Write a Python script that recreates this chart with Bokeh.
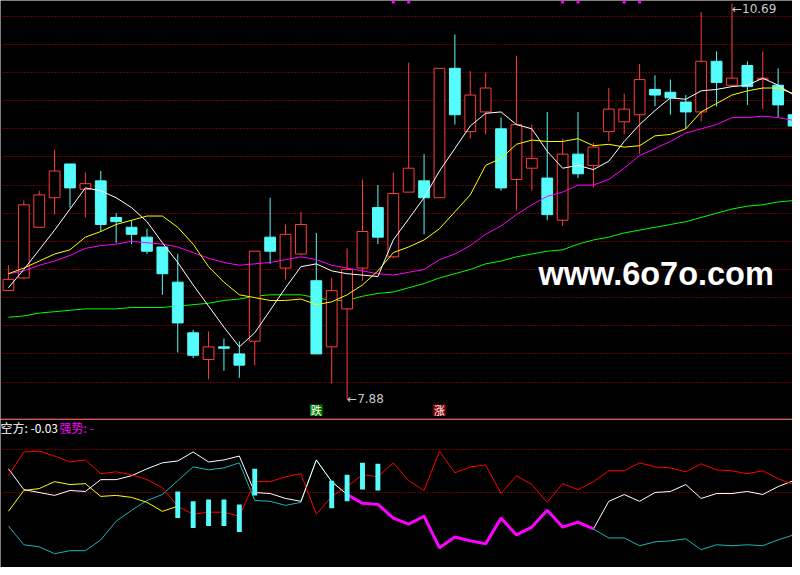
import numpy as np
from bokeh.plotting import figure
from bokeh.layouts import column
from bokeh.models import ColumnDataSource, Range1d, FixedTicker, Span, Label
from bokeh.core.properties import value
from bokeh.embed import file_html
from bokeh.resources import INLINE

# K线数据 (元)
opens = [8.65, 8.74, 9.10, 9.31, 9.55, 9.37, 9.43, 9.17, 9.10, 9.03,
         8.96, 8.71, 8.35, 8.16, 8.25, 8.20, 8.29, 9.03, 8.81, 8.91,
         8.72, 8.25, 8.52, 8.81, 9.24, 8.89, 9.35, 9.43, 9.31, 10.23,
         9.78, 9.92, 9.80, 9.44, 9.52, 9.45, 9.15, 9.62, 9.54, 9.78,
         9.85, 9.90, 10.08, 10.06, 9.99, 9.92, 10.28, 10.11, 10.25, 10.15,
         10.11, 9.90]
highs = [8.83, 9.29, 9.36, 9.65, 9.55, 9.49, 9.50, 9.20, 9.15, 9.09,
         8.96, 8.91, 8.37, 8.36, 8.31, 8.29, 8.93, 9.31, 9.12, 9.21,
         9.06, 8.74, 8.95, 9.44, 9.40, 9.49, 10.27, 9.62, 10.23, 10.47,
         10.21, 10.20, 9.88, 10.32, 9.83, 9.92, 9.73, 9.92, 9.70, 10.09,
         10.05, 10.26, 10.18, 10.15, 10.04, 10.63, 10.35, 10.69, 10.28, 10.35,
         10.23, 9.90]
lows = [8.65, 8.73, 9.10, 9.19, 9.24, 9.17, 9.07, 8.99, 8.98, 8.91,
        8.62, 8.21, 8.17, 8.02, 8.08, 8.03, 8.12, 8.84, 8.73, 8.90,
        8.20, 7.99, 7.88, 8.72, 8.98, 8.88, 9.35, 9.05, 9.31, 9.83,
        9.73, 9.76, 9.36, 9.22, 9.36, 9.15, 9.11, 9.45, 9.38, 9.71,
        9.76, 9.62, 9.96, 9.90, 9.80, 9.85, 9.96, 10.10, 9.97, 9.94,
        9.88, 9.82]
closes = [8.73, 9.26, 9.33, 9.50, 9.38, 9.41, 9.12, 9.14, 9.05, 8.93,
          8.77, 8.42, 8.19, 8.25, 8.24, 8.12, 8.93, 8.93, 9.05, 9.12,
          8.20, 8.65, 8.80, 9.07, 9.03, 9.34, 9.52, 9.31, 10.23, 9.90,
          10.04, 10.09, 9.38, 9.83, 9.59, 9.19, 9.62, 9.48, 9.67, 9.94,
          9.94, 10.15, 10.04, 10.02, 9.92, 10.28, 10.13, 10.16, 10.10, 10.16,
          9.97, 9.82]

# 均线
ma5 = [8.67, 8.80, 8.94, 9.08, 9.23, 9.38, 9.36, 9.31, 9.24, 9.14,
       8.99, 8.85, 8.69, 8.54, 8.39, 8.25, 8.35, 8.51, 8.67, 8.82,
       8.84, 8.79, 8.77, 8.76, 8.75, 9.01, 9.16, 9.31, 9.50, 9.66,
       9.82, 9.91, 9.92, 9.83, 9.80, 9.64, 9.52, 9.54, 9.51, 9.57,
       9.71, 9.83, 9.93, 10.02, 10.01, 10.07, 10.08, 10.10, 10.11, 10.16,
       10.11, 10.04]
ma10 = [8.77, 8.81, 8.86, 8.91, 8.94, 9.03, 9.07, 9.12, 9.15, 9.18,
        9.18, 9.10, 8.98, 8.82, 8.71, 8.62, 8.60, 8.58, 8.58, 8.59,
        8.55, 8.57, 8.62, 8.69, 8.79, 8.92, 8.96, 9.01, 9.09, 9.21,
        9.33, 9.54, 9.59, 9.69, 9.72, 9.71, 9.71, 9.73, 9.68, 9.69,
        9.67, 9.68, 9.75, 9.76, 9.80, 9.92, 9.98, 10.04, 10.07, 10.09,
        10.09, 10.05]
ma20 = [8.77, 8.79, 8.83, 8.86, 8.90, 8.95, 8.97, 8.98, 9.00, 8.99,
        8.98, 8.96, 8.92, 8.88, 8.85, 8.83, 8.84, 8.85, 8.87, 8.89,
        8.87, 8.83, 8.81, 8.79, 8.77, 8.76, 8.78, 8.80, 8.87, 8.91,
        8.97, 9.05, 9.11, 9.19, 9.26, 9.32, 9.35, 9.40, 9.40, 9.44,
        9.52, 9.61, 9.66, 9.71, 9.77, 9.80, 9.83, 9.88, 9.88, 9.89,
        9.88, 9.86]
ma60 = [8.46, 8.47, 8.49, 8.50, 8.51, 8.52, 8.52, 8.52, 8.53, 8.53,
        8.53, 8.54, 8.55, 8.56, 8.58, 8.59, 8.61, 8.62, 8.62, 8.62,
        8.60, 8.58, 8.58, 8.61, 8.63, 8.64, 8.67, 8.70, 8.74, 8.77,
        8.80, 8.84, 8.86, 8.89, 8.91, 8.93, 8.94, 8.98, 9.01, 9.03,
        9.06, 9.08, 9.10, 9.12, 9.14, 9.17, 9.20, 9.23, 9.25, 9.26,
        9.28, 9.29]
price_levels = [10.6, 10.4, 10.2, 10.0, 9.8, 9.6, 9.4, 9.2, 9.0, 8.8, 8.6, 8.4, 8.2, 8.0]

# 涨跌信号 / 顶部标记
signal_idx = [20, 28]
signal_text = ["跌", "涨"]
signal_color = ["#007a00", "#8c0000"]
marker_idx = [25, 26, 36, 37, 40, 41]

# 副图指标
ind_red = [61.6, 78.0, 78.6, 75.2, 71.1, 72.5, 63.0, 64.3, 62.3, 58.9,
           53.4, 40.5, 35.0, 36.4, 36.4, 33.6, 57.5, 57.5, 60.9, 63.0,
           35.0, 47.3, 54.1, 62.3, 60.9, 70.5, 58.2, 51.4, 78.6, 63.6,
           67.7, 69.1, 49.3, 61.6, 55.5, 43.2, 56.1, 52.0, 57.5, 65.0,
           65.0, 70.5, 67.7, 67.0, 64.3, 69.8, 65.7, 65.0, 63.0, 65.0,
           59.5, 55.5]
ind_white = [66.4, 52.0, 50.0, 48.0, 51.4, 50.7, 58.9, 58.9, 61.6, 66.4,
             70.5, 71.8, 78.0, 71.1, 72.5, 75.2, 50.0, 49.3, 45.9, 43.9,
             72.5, 57.5, 48.6, 42.5, 41.8, 32.3, 28.2, 33.6, 11.8, 19.3,
             16.6, 14.5, 32.3, 20.7, 26.1, 37.7, 26.1, 29.5, 24.8, 43.9,
             48.6, 43.9, 50.0, 50.7, 55.5, 45.9, 49.3, 49.3, 50.7, 48.6,
             54.1, 58.2]
ind_cyan = [26.8, 13.9, 12.5, 7.7, 9.8, 9.8, 17.3, 30.2, 37.7, 44.5,
            48.6, 58.2, 67.7, 65.7, 67.0, 70.5, 44.5, 43.9, 41.1, 43.2,
            72.5, 57.5, 48.6, 42.5, 41.8, 32.3, 28.2, 33.6, 11.8, 19.3,
            16.6, 14.5, 32.3, 20.7, 26.1, 37.7, 26.1, 29.5, 24.8, 18.6,
            18.6, 13.2, 15.9, 16.6, 18.0, 10.5, 13.9, 13.2, 13.9, 13.2,
            17.3, 20.7]
ind_yellow = [37.0, 51.4, 52.7, 57.5, 55.5, 56.1, 47.3, 48.0, 46.6, 43.2, 37.0, 40.5]
bar_idx = [11, 12, 13, 14, 15, 16, 21, 22, 23, 24]
bar_top = [50.7, 43.9, 45.2, 45.2, 41.8, 66.4, 58.2, 62.3, 70.5, 69.8]
bar_bottom = [32.3, 25.5, 26.8, 26.8, 22.7, 48.0, 39.1, 43.9, 52.0, 51.4]
strong_from, strong_to = 22, 38
ind_levels = [80, 50]
kong_value = "-0.03"

RED = "#ff3c3c"
CYAN = "#54fcfc"
GRID = "#d00000"

x = np.arange(len(closes))
o, h, l, c = map(np.array, (opens, highs, lows, closes))
up = c > o

xr = Range1d(-0.5145, 50.932)

p = figure(width=792, height=419, x_range=xr, y_range=Range1d(7.7337, 10.7121),
           output_backend="svg", toolbar_location=None, min_border=0)
q = figure(width=792, height=148, x_range=xr, y_range=Range1d(-1.82, 100.45),
           output_backend="svg", toolbar_location=None, min_border=0)

for f, levels in ((p, price_levels), (q, ind_levels)):
    f.background_fill_color = "black"
    f.border_fill_color = "black"
    f.outline_line_color = None
    f.axis.visible = False
    f.xgrid.visible = False
    f.ygrid.ticker = FixedTicker(ticks=levels)
    f.ygrid.grid_line_color = GRID
    f.ygrid.grid_line_dash = "1 2"
    f.ygrid.grid_line_width = 1

# 主图
p.line(x, ma60, line_color="#00ff00", line_width=1)

up_src = ColumnDataSource(dict(x=x[up], h=h[up], l=l[up], top=c[up], bot=o[up]))
dn_src = ColumnDataSource(dict(x=x[~up], h=h[~up], l=l[~up], top=o[~up], bot=c[~up]))
p.segment(x0="x", y0="l", x1="x", y1="h", source=up_src, line_color=RED, line_width=1)
p.vbar(x="x", width=0.7, top="top", bottom="bot", source=up_src,
       fill_color="black", line_color=RED, line_width=1)
p.segment(x0="x", y0="l", x1="x", y1="h", source=dn_src, line_color=CYAN, line_width=1)
p.vbar(x="x", width=0.7, top="top", bottom="bot", source=dn_src,
       fill_color=CYAN, line_color=CYAN, line_width=1)

p.line(x, ma20, line_color="#ff00ff", line_width=1)
p.line(x, ma10, line_color="#ffff00", line_width=1)
p.line(x, ma5, line_color="white", line_width=1)

hi = int(np.argmax(h))
lo = int(np.argmin(l))
p.text(x=[hi], y=[h[hi]], text=["←%.2f" % h[hi]], text_color="#c8c8c8",
       text_font=value("DejaVu Sans"), text_font_size="12px",
       text_baseline="middle", text_align="left", y_offset=5)
p.text(x=[lo], y=[l[lo]], text=["←%.2f" % l[lo]], text_color="#c8c8c8",
       text_font=value("DejaVu Sans"), text_font_size="12px",
       text_baseline="middle", text_align="left")

p.rect(x=signal_idx, y=7.80, width=0.82, height=0.08, fill_color=signal_color,
       line_color=None)
p.text(x=signal_idx, y=[7.80] * len(signal_idx), text=signal_text, text_color="white",
       text_font=value("Noto Sans CJK SC"), text_font_size="11px",
       text_baseline="middle", text_align="center")

p.rect(x=marker_idx, y=10.701, width=3, height=3, width_units="screen",
       height_units="screen", fill_color="#ff00ff", line_color=None)

p.add_layout(Label(x=538, y=146, x_units="screen", y_units="screen",
                   text="www.6o7o.com", text_color="white",
                   text_font="Liberation Sans", text_font_size="32.5px",
                   text_font_style="bold", text_baseline="alphabetic"))
p.add_layout(Span(location=7.737, dimension="width", line_color="#d00000", line_width=1.5))

# 副图
q.line(x, ind_cyan, line_color="#1cb4b4", line_width=1)
q.line(x[:len(ind_yellow)], ind_yellow, line_color="#ffff00", line_width=1)
q.line(x, ind_white, line_color="white", line_width=1)
q.line(x, ind_red, line_color="#ff0000", line_width=1)
q.line(x[strong_from:strong_to + 1], ind_white[strong_from:strong_to + 1],
       line_color="#ff00ff", line_width=3)
q.vbar(x=bar_idx, width=0.32, top=bar_top, bottom=bar_bottom,
       fill_color=CYAN, line_color=None)

q.add_layout(Label(x=0, y=95, x_units="screen", text="空方: " + kong_value,
                   text_color="white", text_font="Noto Sans CJK SC",
                   text_font_size="12px", text_baseline="middle"))
q.add_layout(Label(x=59, y=95, x_units="screen", text="强势: -",
                   text_color="#ff00ff", text_font="Noto Sans CJK SC",
                   text_font_size="12px", text_baseline="middle"))

layout = column(p, q)
open("out.html", "w").write(file_html(layout, INLINE))
